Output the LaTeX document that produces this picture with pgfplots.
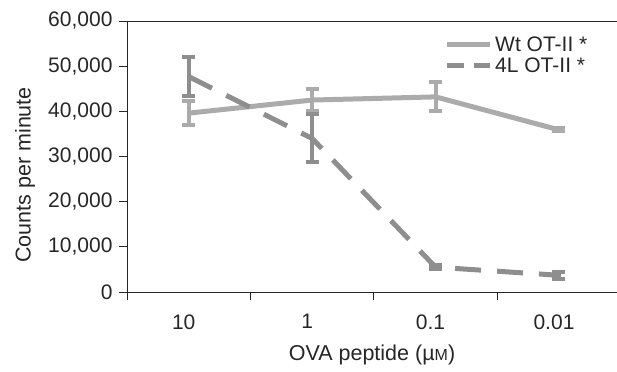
\documentclass[border=0pt]{standalone}
\usepackage{pgfplots}
\pgfplotsset{compat=1.18}
\usepackage{fontspec}
\setmainfont{Liberation Sans}
\definecolor{wtc}{HTML}{ABABAB}
\definecolor{flc}{HTML}{8E8E8E}
\begin{document}
\begin{tikzpicture}
\useasboundingbox (-127bp,-80bp) rectangle (490bp,292bp);
\begin{axis}[
  scale only axis, width=490bp, height=271bp,
  xmin=-0.5, xmax=3.47, ymin=0, ymax=60000,
  axis x line*=bottom, axis y line*=left,
  axis line style={line width=0.8bp, color=black!85, -},
  tick style={line width=0.8bp, color=black!85},
  tick align=outside, major tick length=8bp,
  ytick={0,10000,20000,30000,40000,50000,60000},
  scaled y ticks=false,
  /pgf/number format/1000 sep={,},
  /pgf/number format/assume math mode=true,
  xtick={-0.5,0.5,1.5,2.5}, xticklabels={},
  extra x ticks={0,1,2,3},
  extra x tick labels={10,1,0.1,0.01},
  extra x tick style={major tick length=0pt, tick label style={yshift=-19bp, xshift=-5bp}},
  ticklabel style={font=\fontsize{21bp}{25bp}\selectfont, text=black!85},
  yticklabel style={xshift=-3bp},
  xlabel={OVA peptide (\textmu{\fontsize{16bp}{18bp}\selectfont M})},
  ylabel={Counts per minute},
  label style={font=\fontsize{21.5bp}{25bp}\selectfont, text=black!85},
  xlabel style={at={(axis description cs:0.5,-0.2325)}, anchor=center},
  ylabel style={at={(axis description cs:-0.208,0.432)}, anchor=center},
  legend style={draw=none, fill=none, at={(axis description cs:0.648,0.952)}, anchor=north west,
    font=\fontsize{21bp}{24bp}\selectfont, text=black!85, inner sep=0pt, row sep=0pt,
    nodes={inner sep=2.5bp}},
  legend cell align=left,
  legend image code/.code={\draw[#1] (0bp,0bp) -- (43bp,0bp);},
  clip=false,
]
\draw[line width=0.8bp, black!85] (rel axis cs:0,1) -- (rel axis cs:1,1);
\addlegendimage{wtc, line width=5bp}
\addlegendentry{Wt OT-II *}
\addlegendimage{flc, line width=5bp, dash pattern=on 17bp off 10bp}
\addlegendentry{4L OT-II *}
\addplot[wtc, line width=5bp, forget plot,
  error bars/.cd, y dir=both, y explicit,
  error bar style={line width=4bp, solid},
  error mark options={rotate=90, mark size=6.5bp, line width=4bp, solid}]
  table[x=x, y=y, y error=e] {
x y e
0 39600 2600
1 42500 2400
2 43200 3200
3 35900 300
};
\addplot[flc, line width=5bp, forget plot, dash pattern=on 26bp off 16bp,
  error bars/.cd, y dir=both, y explicit,
  error bar style={line width=4bp, solid},
  error mark options={rotate=90, mark size=6.5bp, line width=4bp, solid}]
  table[x=x, y=y, y error=e] {
x y e
0 47700 4300
1 34000 5300
2 5500 500
3 3700 800
};
\end{axis}
\end{tikzpicture}
\end{document}
